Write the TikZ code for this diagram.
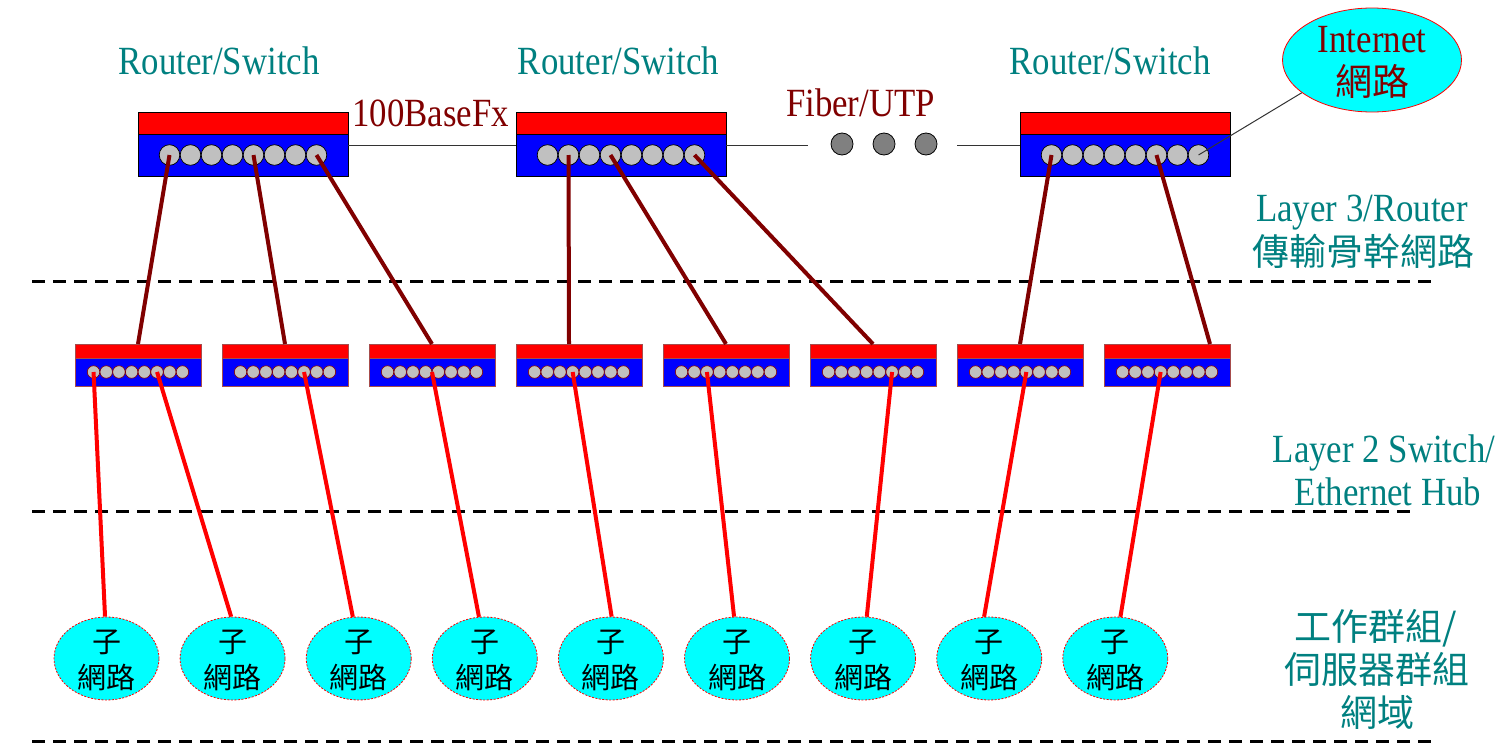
\documentclass[tikz,border=0pt]{standalone}
\usepackage{fontspec}
\setmainfont{Liberation Serif}[FakeStretch=0.87]
\newfontfamily\cjkfont{Noto Sans CJK TC}
\usetikzlibrary{shapes.geometric,calc}
\definecolor{tealc}{RGB}{0,128,128}
\definecolor{maroonc}{RGB}{128,0,0}
\definecolor{portgray}{RGB}{192,192,192}
\definecolor{dotgray}{RGB}{128,128,128}
\definecolor{bluec}{RGB}{0,0,255}
\definecolor{redc}{RGB}{255,0,0}
\definecolor{cyanc}{RGB}{0,255,255}
\begin{document}
\begin{tikzpicture}[x=1pt,y=-1pt,
  bandbig/.style={draw=black,line width=0.9pt,fill=redc,minimum width=210pt,minimum height=22pt,inner sep=0pt,outer sep=0pt},
  bodybig/.style={draw=black,line width=0.9pt,fill=bluec,minimum width=210pt,minimum height=42pt,inner sep=0pt,outer sep=0pt},
  portbig/.style={circle,draw=black,line width=0.7pt,fill=portgray,minimum size=20.6pt,inner sep=0pt},
  bandsm/.style={draw=maroonc!70,line width=0.7pt,fill=redc,minimum width=126pt,minimum height=14pt,inner sep=0pt,outer sep=0pt},
  bodysm/.style={draw=maroonc!70,line width=0.7pt,fill=bluec,minimum width=126pt,minimum height=28pt,inner sep=0pt,outer sep=0pt},
  portsm/.style={circle,draw=maroonc,line width=0.6pt,fill=portgray,minimum size=12.5pt,inner sep=0pt},
  dotnode/.style={circle,draw=black,line width=0.8pt,fill=dotgray,minimum size=22pt,inner sep=0pt},
  subnet/.style={ellipse,draw=redc,line width=0.8pt,dash pattern=on 2pt off 1.5pt,fill=cyanc,minimum width=105pt,minimum height=83pt,inner sep=0pt},
  inetnode/.style={ellipse,draw=redc,line width=0.8pt,fill=cyanc,minimum width=179pt,minimum height=104pt,inner sep=0pt},
  subtxt/.style={text=black,font=\cjkfont\fontsize{29}{34}\selectfont,anchor=base,inner sep=0pt},
  tealtxt/.style={text=tealc,font=\fontsize{40}{46}\selectfont,anchor=base,inner sep=0pt},
  tealcjk/.style={text=tealc,font=\cjkfont\fontsize{37}{43}\selectfont,anchor=base,inner sep=0pt},
  browntxt/.style={text=maroonc,font=\fontsize{40}{46}\selectfont,anchor=base,inner sep=0pt},
  browncjk/.style={text=maroonc,font=\cjkfont\fontsize{37}{43}\selectfont,anchor=base,inner sep=0pt},
  trunk/.style={draw=maroonc,line width=4pt},
  link/.style={draw=redc,line width=4pt},
  thinline/.style={draw=black!80,line width=1pt},
  sep/.style={draw=black,line width=3pt,dash pattern=on 13pt off 8pt}
]
\useasboundingbox (0,0) rectangle (1504,744);

% separators
\coordinate (L1a) at (32,281); \coordinate (L1b) at (1432,281);
\coordinate (L2a) at (32,511); \coordinate (L2b) at (1410,511);
\coordinate (L3a) at (32,741); \coordinate (L3b) at (1432,741);
\draw[sep] (L1a) -- (L1b);
\draw[sep] (L2a) -- (L2b);
\draw[sep] (L3a) -- (L3b);

% big routers
\foreach \n/\cx in {1/243,2/621,3/1125}{
  \node[bandbig] (rt\n) at (\cx,123) {};
  \node[bodybig] (rb\n) at (\cx,155) {};
  \foreach \k in {1,...,8}{
    \node[portbig] (rc\n-\k) at ({\cx+(\k-4.5)*21},155) {};
  }
}

% small switches
\foreach \n in {1,...,8}{
  \pgfmathsetmacro\sx{138+147*(\n-1)}
  \node[bandsm] (st\n) at (\sx,351) {};
  \node[bodysm] (sb\n) at (\sx,372) {};
  \foreach \k in {1,...,8}{
    \node[portsm] (sc\n-\k) at ({\sx+(\k-4.5)*12.7},372) {};
  }
}

% subnets
\foreach \n in {1,...,9}{
  \pgfmathsetmacro\ex{106.5+126.1*(\n-1)}
  \node[subnet] (e\n) at (\ex,658.5) {};
  \node[subtxt] (ea\n) at (\ex,652) {子};
  \node[subtxt] (eb\n) at (\ex,688) {網路};
}

% internet
\node[inetnode] (inet) at (1372,60) {};
\node[browntxt] (inet1) at (1372,52) {Internet};
\node[browncjk] (inet2) at (1372,95.5) {網路};

% dots
\node[dotnode] (d1) at (842,144) {};
\node[dotnode] (d2) at (884,144) {};
\node[dotnode] (d3) at (926,144) {};
\coordinate (fa) at (808,145);
\coordinate (fb) at (957,145);

% thin links
\draw[thinline] ($(rb1.east)+(0,-10)$) -- ($(rb2.west)+(0,-10)$);
\draw[thinline] ($(rb2.east)+(0,-10)$) -- (fa);
\draw[thinline] (fb) -- ($(rb3.west)+(0,-10)$);
\draw[thinline] (rc3-8.center) -- (inet.205);

% trunks
\draw[trunk] (rc1-1.center) -- (st1.north);
\draw[trunk] (rc1-5.center) -- (st2.north);
\draw[trunk] (rc1-8.center) -- (st3.north);
\draw[trunk] (rc2-2.center) -- ($(st4.north)+(-10,0)$);
\draw[trunk] (rc2-4.center) -- (st5.north);
\draw[trunk] (rc2-8.center) -- (st6.north);
\draw[trunk] (rc3-1.center) -- (st7.north);
\draw[trunk] (rc3-6.center) -- ($(st8.north)+(43,0)$);

% access links
\draw[link] (sc1-1.center) -- (e1.92);
\draw[link] (sc1-6.center) -- (e2.92);
\draw[link] (sc2-6.center) -- (e3.98);
\draw[link] (sb3.center) -- (e4.98);
\draw[link] (sc4-4.center) -- (e5.89);
\draw[link] (sc5-3.center) -- (e6.94);
\draw[link] (sc6-6.center) -- (e7.85);
\draw[link] (sc7-5.center) -- (e8.97);
\draw[link] (sc8-4.center) -- (e9.83);

% labels
\node[tealtxt] (lab1) at (219,74) {Router/Switch};
\node[tealtxt] (lab2) at (618.5,74) {Router/Switch};
\node[tealtxt] (lab3) at (1110,74) {Router/Switch};
\node[browntxt] (lab4) at (430.5,126) {100BaseFx};
\node[browntxt] (lab5) at (860.5,116) {Fiber/UTP};
\node[tealtxt] (lab6) at (1362,221) {Layer 3/Router};
\node[tealcjk] (lab7) at (1363,265) {傳輸骨幹網路};
\node[tealtxt] (lab8) at (1384,462) {Layer 2 Switch/};
\node[tealtxt] (lab9) at (1388,505) {Ethernet Hub};
\node[tealcjk] (lab10) at (1376,640) {工作群組/};
\node[tealcjk] (lab11) at (1377,683) {伺服器群組};
\node[tealcjk] (lab12) at (1377,726) {網域};
\end{tikzpicture}
\end{document}
